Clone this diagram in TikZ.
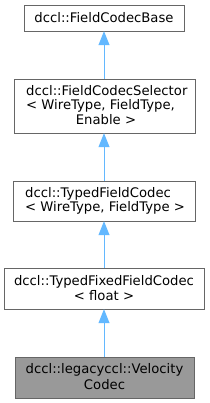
\documentclass[tikz,border=0pt]{standalone}
\usepackage{fontspec}
\setmainfont{DejaVu Sans}
\usetikzlibrary{arrows.meta}
\definecolor{edgeblue}{HTML}{63B8FF}
\definecolor{boxborder}{HTML}{666666}
\definecolor{boxgray}{HTML}{999999}
\begin{document}
\begin{tikzpicture}[x=1pt,y=-1pt,
  cls/.style={draw=boxborder, line width=0.9pt, fill=white, inner sep=0pt},
  cur/.style={cls, fill=boxgray},
  txt/.style={font=\fontsize{13.2}{15}\selectfont, inner sep=0pt, text=black},
  inh/.style={draw=edgeblue, line width=1pt, -{Triangle[width=11pt,length=14pt,fill=edgeblue]}}
]
\useasboundingbox (0,0) rectangle (209,403);
% boxes
\path[cls] (24,5) rectangle (184,31);
\node[inner sep=0pt, minimum width=160pt, minimum height=26pt] (b1) at (104,18) {};
\path[cls] (14,79) rectangle (195,133);
\node[inner sep=0pt, minimum width=181pt, minimum height=54pt] (b2) at (104.5,106) {};
\path[cls] (13,181) rectangle (195,221);
\node[inner sep=0pt, minimum width=182pt, minimum height=40pt] (b3) at (104,201) {};
\path[cls] (4,268) rectangle (204,309);
\node[inner sep=0pt, minimum width=200pt, minimum height=41pt] (b4) at (104,288.5) {};
\path[cur] (15,357) rectangle (194,398);
\node[inner sep=0pt, minimum width=179pt, minimum height=41pt] (b5) at (104.5,377.5) {};
% texts
\node[txt] (t1) at (104,18) {dccl::FieldCodecBase};
\node[txt, anchor=west] (t2a) at (26,91) {dccl::FieldCodecSelector};
\node[txt, anchor=west] (t2b) at (26,105.5) {< WireType, FieldType,};
\node[txt] (t2c) at (106,120) {Enable >};
\node[txt, anchor=west] (t3a) at (25,193.5) {dccl::TypedFieldCodec};
\node[txt, anchor=west] (t3b) at (25,208) {< WireType, FieldType >};
\node[txt] (t4a) at (104,281.5) {dccl::TypedFixedFieldCodec};
\node[txt] (t4b) at (104,296) {< float >};
\node[txt] (t5a) at (104.5,370) {dccl::legacyccl::Velocity};
\node[txt] (t5b) at (104.5,384.5) {Codec};
% edges
\draw[inh] (b2.north -| 104,0) -- (b1.south -| 104,0);
\draw[inh] (b3.north -| 104,0) -- (b2.south -| 104,0);
\draw[inh] (b4.north -| 104,0) -- (b3.south -| 104,0);
\draw[inh] (b5.north -| 104,0) -- (b4.south -| 104,0);
\end{tikzpicture}
\end{document}
